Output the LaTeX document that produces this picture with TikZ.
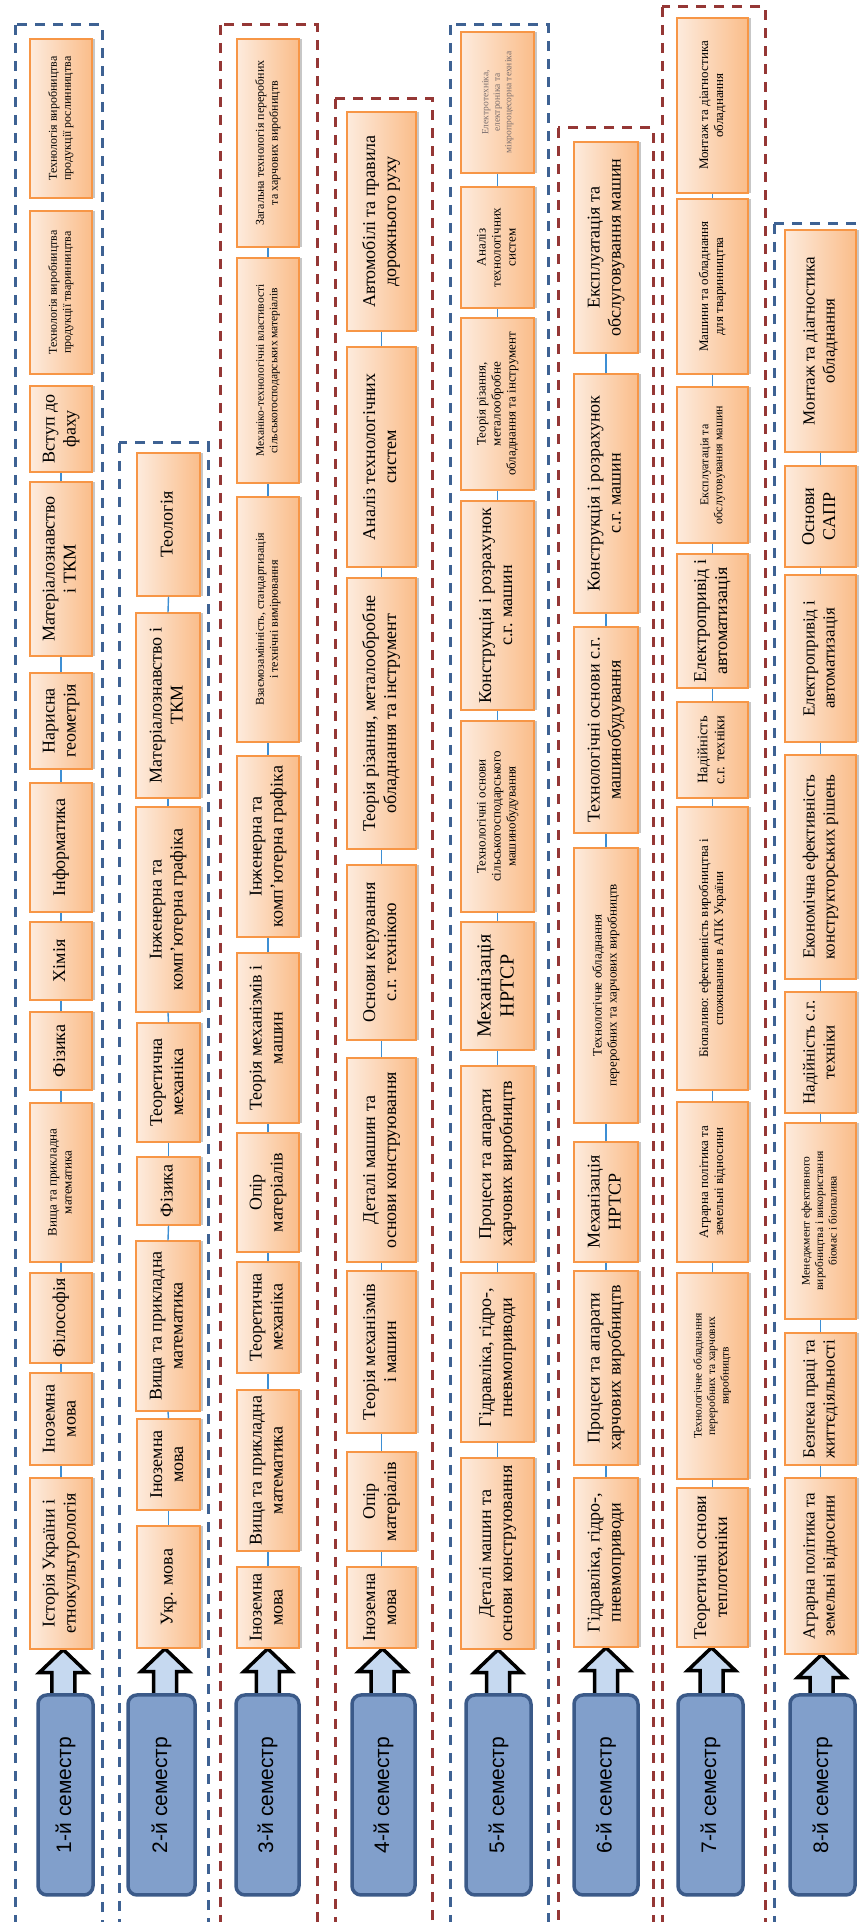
\documentclass[tikz,border=0pt]{standalone}
\usepackage{fontspec}
\usepackage{graphicx}
\setmainfont{Liberation Serif}
\newfontfamily\boxfont{Liberation Serif}
\newfontfamily\semfont{Liberation Sans}
\usetikzlibrary{shadows,calc}
\pgfdeclarelayer{bg}
\pgfsetlayers{bg,main}
\definecolor{orB}{HTML}{F79646}
\definecolor{peach}{HTML}{FDEBDD}
\definecolor{orF}{HTML}{FABD8A}
\definecolor{semF}{HTML}{819FCB}
\definecolor{semD}{HTML}{3B5A89}
\definecolor{arF}{HTML}{C6D9F0}
\definecolor{dBlue}{HTML}{3E6293}
\definecolor{dRed}{HTML}{953735}
\definecolor{connC}{HTML}{3D8FD4}
\definecolor{grayT}{HTML}{7A6E6E}

% orange subject box: [style]{name}{x1}{x2}{ytop}{ybot}{text}  (pixel coords, y downward)
\newcommand\obox[7][]{%
  \pgfmathsetmacro\bxc{(#3+#4)/2}%
  \pgfmathsetmacro\byc{1922-(#5+#6)/2}%
  \pgfmathsetmacro\bwd{#4-#3}%
  \pgfmathsetmacro\bht{#6-#5}%
  \node[obox,minimum width=\bwd pt,minimum height=\bht pt,#1] (#2) at (\bxc,\byc)
    {\rotatebox{90}{\begin{tabular}{@{}c@{}}#7\end{tabular}}};}
% semester box: {name}{x1}{x2}{text}
\newcommand\sembox[4]{%
  \pgfmathsetmacro\bxc{(#2+#3)/2}%
  \pgfmathsetmacro\bwd{#3-#2}%
  \node[sem,minimum width=\bwd pt,minimum height=200pt] (#1) at (\bxc,127) {\rotatebox{90}{#4}};}
% block arrow from semester box to first subject
\newcommand\semarrow[2]{%
  \begin{pgfonlayer}{bg}
  \draw[barrow] let \p1=(#2.south), \p2=(#1.north), \n1={(\x1+\x2)/2} in
    (\n1-11.5pt,\y2-6pt) -- (\n1-11.5pt,\y1-23pt) -- (\n1-24pt,\y1-23pt) -- (\n1,\y1)
    -- (\n1+24pt,\y1-23pt) -- (\n1+11.5pt,\y1-23pt) -- (\n1+11.5pt,\y2-6pt) -- cycle;
  \end{pgfonlayer}}
% chain connectors: {column prefix}{last index}
\newcommand\chain[2]{%
  \foreach \i [evaluate=\i as \j using int(\i+1)] in {1,...,#2} {\draw[conn] (#1b\i.north) -- (#1b\j.south);}}

\begin{document}
\begin{tikzpicture}[x=1pt,y=1pt,
  obox/.style={draw=orB,line width=1.3pt,left color=peach,right color=orF,inner sep=0pt,
    general shadow={fill=black!22,shadow xshift=2.5pt,shadow yshift=-0.5pt},
    font=\boxfont\fontsize{18}{21}\selectfont},
  fm/.style={font=\boxfont\fontsize{13}{15}\selectfont},
  fs/.style={font=\boxfont\fontsize{12}{14}\selectfont},
  fxs/.style={font=\boxfont\fontsize{11.5}{13.5}\selectfont},
  ft/.style={font=\boxfont\fontsize{9.5}{11.5}\selectfont,text=grayT},
  fl/.style={font=\boxfont\fontsize{17}{20}\selectfont},
  fbig/.style={font=\boxfont\fontsize{20}{23}\selectfont},
  fmid/.style={font=\boxfont\fontsize{14.5}{17}\selectfont},
  sem/.style={draw=semD,fill=semF,line width=3.5pt,rounded corners=9pt,inner sep=0pt,
    font=\semfont\fontsize{21}{25}\selectfont},
  barrow/.style={draw=black,fill=arF,line width=3.5pt,line join=miter},
  conn/.style={draw=connC,line width=1.4pt},
  dashB/.style={draw=dBlue,line width=3pt,dash pattern=on 10pt off 8pt},
  dashR/.style={draw=dRed,line width=3pt,dash pattern=on 10pt off 8pt}]
\useasboundingbox (0,0) rectangle (862,1922);
\clip (0,0) rectangle (862,1922);

\begin{pgfonlayer}{bg}
\draw[dashB] (15,1897) rectangle (102,-20);
\draw[dashB] (119,1479) rectangle (208,-20);
\draw[dashR] (220,1897) rectangle (317,-20);
\draw[dashR] (335,1823) rectangle (432,-20);
\draw[dashB] (450,1897) rectangle (548,-20);
\draw[dashR] (558,1794) rectangle (653,-20);
\draw[dashR] (662,1915) rectangle (765,-20);
\draw[dashB] (774,1698) rectangle (870,-20);
\end{pgfonlayer}

% ---------- column 1 ----------
\obox{c1b1}{30}{92}{1478}{1649}{Історія України і\\етнокультурологія}
\obox{c1b2}{30}{92}{1373}{1465}{Іноземна\\мова}
\obox{c1b3}{30}{92}{1273}{1363}{Філософія}
\obox[fm]{c1b4}{30}{92}{1103}{1262}{Вища та прикладна\\математика}
\obox{c1b5}{30}{92}{1012}{1090}{Фізика}
\obox{c1b6}{30}{92}{922}{1000}{Хімія}
\obox{c1b7}{30}{92}{783}{912}{Інформатика}
\obox{c1b8}{30}{92}{673}{769}{Нарисна\\геометрія}
\obox{c1b9}{30}{92}{482}{656}{Матеріалознавство\\і ТКМ}
\obox{c1b10}{30}{92}{386}{472}{Вступ до\\фаху}
\obox[fs]{c1b11}{30}{92}{211}{374}{Технологія виробництва\\продукції тваринництва}
\obox[fs]{c1b12}{30}{92}{39}{198}{Технологія виробництва\\продукції рослинництва}
\chain{c1}{9}

% ---------- column 2 ----------
\obox{c2b1}{137}{200}{1526}{1648}{Укр. мова}
\obox{c2b2}{137}{200}{1419}{1510}{Іноземна\\мова}
\obox{c2b3}{136}{200}{1241}{1411}{Вища та прикладна\\математика}
\obox{c2b4}{137}{200}{1157}{1225}{Фізика}
\obox{c2b5}{137}{200}{1023}{1142}{Теоретична\\механіка}
\obox{c2b6}{136}{200}{807}{1012}{Інженерна та\\комп’ютерна графіка}
\obox{c2b7}{136}{200}{613}{798}{Матеріалознавство і\\ТКМ}
\obox{c2b8}{137}{200}{453}{596}{Теологія}
\chain{c2}{7}

% ---------- column 3 ----------
\obox{c3b1}{237}{299}{1567}{1648}{Іноземна\\мова}
\obox{c3b2}{237}{299}{1390}{1551}{Вища та прикладна\\математика}
\obox{c3b3}{237}{299}{1262}{1373}{Теоретична\\механіка}
\obox{c3b4}{237}{299}{1133}{1252}{Опір\\матеріалів}
\obox{c3b5}{237}{299}{953}{1123}{Теорія механізмів і\\машин}
\obox{c3b6}{237}{299}{756}{937}{Інженерна та\\комп’ютерна графіка}
\obox[fs]{c3b7}{237}{299}{497}{742}{Взаємозамінність, стандартизація\\і технічні вимірювання}
\obox[fxs]{c3b8}{237}{299}{258}{483}{Механіко-технологічні властивості\\сільськогосподарських матеріалів}
\obox[fs]{c3b9}{237}{299}{39}{247}{Загальна технологія переробних\\та харчових виробництв}
\chain{c3}{8}

% ---------- column 4 ----------
\obox{c4b1}{347}{416}{1567}{1648}{Іноземна\\мова}
\obox{c4b2}{347}{416}{1452}{1551}{Опір\\матеріалів}
\obox{c4b3}{347}{416}{1271}{1433}{Теорія механізмів\\і машин}
\obox{c4b4}{347}{416}{1058}{1262}{Деталі машин та\\основи конструювання}
\obox{c4b5}{347}{416}{865}{1040}{Основи керування\\с.г. технікою}
\obox{c4b6}{347}{416}{578}{849}{Теорія різання, металообробне\\обладнання та інструмент}
\obox{c4b7}{347}{416}{347}{567}{Аналіз технологічних\\систем}
\obox{c4b8}{347}{416}{112}{331}{Автомобілі та правила\\дорожнього руху}
\chain{c4}{7}

% ---------- column 5 ----------
\obox{c5b1}{461}{534}{1458}{1649}{Деталі машин та\\основи конструювання}
\obox{c5b2}{461}{534}{1273}{1442}{Гідравліка, гідро-,\\пневмоприводи}
\obox{c5b3}{461}{534}{1066}{1262}{Процеси та апарати\\харчових виробництв}
\obox[fbig]{c5b4}{461}{534}{922}{1050}{Механізація\\НРТСР}
\obox[fm]{c5b5}{461}{534}{721}{912}{Технологічні основи\\сільськогосподарського\\машинобудування}
\obox{c5b6}{461}{534}{501}{710}{Конструкція і розрахунок\\с.г. машин}
\obox[fm]{c5b7}{461}{534}{318}{490}{Теорія різання,\\металообробне\\обладнання та інструмент}
\obox[fm]{c5b8}{461}{534}{187}{308}{Аналіз\\технологічних\\систем}
\obox[ft]{c5b9}{461}{534}{32}{173}{Електротехніка,\\електроніка та\\мікропроцесорна техніка}
\chain{c5}{8}

% ---------- column 6 ----------
\obox{c6b1}{574}{638}{1478}{1647}{Гідравліка, гідро-,\\пневмоприводи}
\obox{c6b2}{574}{638}{1271}{1465}{Процеси та апарати\\харчових виробництв}
\obox{c6b3}{574}{638}{1142}{1262}{Механізація\\НРТСР}
\obox[fm]{c6b4}{574}{638}{848}{1123}{Технологічне обладнання\\переробних та харчових виробництв}
\obox{c6b5}{574}{638}{627}{833}{Технологічні основи с.г.\\машинобудування}
\obox{c6b6}{574}{638}{374}{613}{Конструкція і розрахунок\\с.г. машин}
\obox{c6b7}{574}{638}{142}{353}{Експлуатація та\\обслуговування машин}
\chain{c6}{6}

% ---------- column 7 ----------
\obox{c7b1}{677}{748}{1488}{1647}{Теоретичні основи\\теплотехніки}
\obox[fxs]{c7b2}{677}{748}{1273}{1479}{Технологічне обладнання\\переробних та харчових\\виробництв}
\obox[fm]{c7b3}{677}{748}{1102}{1262}{Аграрна політика та\\земельні відносини}
\obox[fm]{c7b4}{677}{748}{807}{1090}{Біопаливо: ефективність виробництва і\\споживання в АПК України}
\obox[fmid]{c7b5}{677}{748}{702}{798}{Надійність\\с.г. техніки}
\obox{c7b6}{677}{748}{554}{688}{Електропривід і\\автоматизація}
\obox[fs]{c7b7}{677}{748}{387}{543}{Експлуатація та\\обслуговування машин}
\obox[fm]{c7b8}{677}{748}{199}{374}{Машини та обладнання\\для тваринництва}
\obox[fm]{c7b9}{677}{748}{18}{193}{Монтаж та діагностика\\обладнання}
\chain{c7}{8}

% ---------- column 8 ----------
\obox[fl]{c8b1}{785}{856}{1478}{1654}{Аграрна політика та\\земельні відносини}
\obox[fl]{c8b2}{785}{856}{1333}{1465}{Безпека праці та\\життєдіяльності}
\obox[fxs]{c8b3}{785}{856}{1123}{1319}{Менеджмент ефективного\\виробництва і використання\\біомас і біопалива}
\obox[fl]{c8b4}{785}{856}{992}{1113}{Надійність с.г.\\техніки}
\obox[fl]{c8b5}{785}{856}{755}{979}{Економічна ефективність\\конструкторських рішень}
\obox[fl]{c8b6}{785}{856}{575}{742}{Електропривід і\\автоматизація}
\obox{c8b7}{785}{856}{466}{567}{Основи\\САПР}
\obox[fl]{c8b8}{785}{856}{230}{452}{Монтаж та діагностика\\обладнання}
\chain{c8}{7}

% ---------- semesters ----------
\sembox{s1}{38}{93}{1-й семестр}
\sembox{s2}{128}{195}{2-й семестр}
\sembox{s3}{236}{299}{3-й семестр}
\sembox{s4}{352}{415}{4-й семестр}
\sembox{s5}{466}{531}{5-й семестр}
\sembox{s6}{574}{638}{6-й семестр}
\sembox{s7}{678}{743}{7-й семестр}
\sembox{s8}{790}{855}{8-й семестр}
\semarrow{s1}{c1b1}
\semarrow{s2}{c2b1}
\semarrow{s3}{c3b1}
\semarrow{s4}{c4b1}
\semarrow{s5}{c5b1}
\semarrow{s6}{c6b1}
\semarrow{s7}{c7b1}
\semarrow{s8}{c8b1}
\end{tikzpicture}
\end{document}
